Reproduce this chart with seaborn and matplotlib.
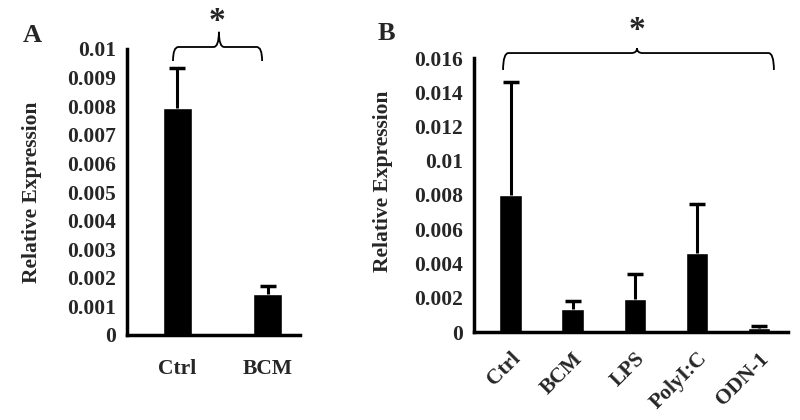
import numpy as np
import pandas as pd
import matplotlib
matplotlib.use("Agg")
import matplotlib.pyplot as plt
import seaborn as sns
from matplotlib.path import Path
from matplotlib.patches import PathPatch

# ---------------- data ----------------
cats_a = ["Ctrl", "BCM"]
vals_a = [0.00795, 0.00145]
err_a = [0.0014, 0.00025]

cats_b = ["Ctrl", "BCM", "LPS", "PolyI:C", "ODN-1"]
vals_b = [0.0080, 0.00135, 0.0019, 0.0046, 0.00025]
err_b = [0.0066, 0.00045, 0.0015, 0.0029, 0.0001]

yticks_a = [0, 0.001, 0.002, 0.003, 0.004, 0.005, 0.006, 0.007, 0.008, 0.009, 0.01]
yticks_b = [0, 0.002, 0.004, 0.006, 0.008, 0.01, 0.012, 0.014, 0.016]

sns.set_theme(style="white")
plt.rcParams["font.family"] = ["Liberation Serif", "DejaVu Serif"]
plt.rcParams["font.weight"] = "bold"

W, H = 800, 420
fig = plt.figure(figsize=(8, 4.2), dpi=100)

TICK_FS = 15.5


def px_axes(l, r, t, b):
    return fig.add_axes([l / W, (H - b) / H, (r - l) / W, (b - t) / H])


def style(ax, yticks, ymax):
    ax.set_ylim(0, ymax)
    ax.set_yticks(yticks)
    ax.set_yticklabels([f"{v:g}" for v in yticks], fontsize=TICK_FS, fontweight="bold")
    for s in ["top", "right"]:
        ax.spines[s].set_visible(False)
    for s in ["left", "bottom"]:
        ax.spines[s].set_linewidth(2.5)
        ax.spines[s].set_color("black")
    ax.tick_params(axis="y", direction="out", length=5, width=2, color="black", pad=3)
    ax.tick_params(axis="x", length=0)
    ax.set_xlabel("")
    ax.set_ylabel("Relative Expression", fontsize=15.5, fontweight="bold")
    ax.set_facecolor("white")


def errbars(ax, vals, errs):
    _, caps, _ = ax.errorbar(range(len(vals)), vals,
                             yerr=[np.zeros(len(errs)), errs],
                             fmt="none", ecolor="black", elinewidth=2.2,
                             capsize=5.5, capthick=2.5)
    # hide the caps at the bottom (bar top) end
    if len(caps) == 2:
        caps[0].set_visible(False)


def brace(ax, x0, x1, xc, yb, yh, yp, dx):
    verts = [(x0, yb), (x0, yh), (x0 + dx, yh),
             (xc - dx, yh), (xc, yh), (xc, yp),
             (xc, yh), (xc + dx, yh),
             (x1 - dx, yh), (x1, yh), (x1, yb)]
    codes = [Path.MOVETO, Path.CURVE3, Path.CURVE3,
             Path.LINETO, Path.CURVE3, Path.CURVE3,
             Path.CURVE3, Path.CURVE3,
             Path.LINETO, Path.CURVE3, Path.CURVE3]
    p = PathPatch(Path(verts, codes), fill=False, lw=1.3, color="black", clip_on=False)
    ax.add_patch(p)


# ---------------- panel A ----------------
axA = px_axes(127, 300, 49, 335)
dfa = pd.DataFrame({"cat": cats_a, "val": vals_a})
sns.barplot(data=dfa, x="cat", y="val", color="black", width=0.32, ax=axA,
            errorbar=None, saturation=1)
errbars(axA, vals_a, err_a)
axA.set_xlim(-0.561, 1.361)
style(axA, yticks_a, 0.01)
axA.set_xticks(range(len(cats_a)))
axA.set_xticklabels(cats_a, fontsize=TICK_FS, fontweight="bold")
axA.tick_params(axis="x", pad=17)
axA.yaxis.set_label_coords(-0.49, 0.5)
brace(axA, -0.05, 0.94, 0.46, 0.00958, 0.01007, 0.0106, 0.06)
axA.text(0.44, 0.01095, "*", ha="center", va="center", fontsize=24, fontweight="bold")
fig.text(32 / W, (H - 36) / H, "A", ha="center", va="center", fontsize=19, fontweight="bold")

# ---------------- panel B ----------------
axB = px_axes(474, 788, 58, 332)
dfb = pd.DataFrame({"cat": cats_b, "val": vals_b})
sns.barplot(data=dfb, x="cat", y="val", color="black", width=0.36, ax=axB,
            errorbar=None, saturation=1)
errbars(axB, vals_b, err_b)
axB.set_xlim(-0.588, 4.467)
style(axB, yticks_b, 0.016)
axB.set_xticks(range(len(cats_b)))
axB.set_xticklabels(cats_b, fontsize=TICK_FS, fontweight="bold", rotation=45,
                    ha="right", rotation_mode="anchor")
axB.tick_params(axis="x", pad=12)
axB.yaxis.set_label_coords(-0.258, 0.55)
brace(axB, -0.12, 4.24, 2.036, 0.0153, 0.01629, 0.01658, 0.09)
axB.text(2.036, 0.0176, "*", ha="center", va="center", fontsize=24, fontweight="bold")
fig.text(386 / W, (H - 34) / H, "B", ha="center", va="center", fontsize=19, fontweight="bold")

fig.savefig("out.png", dpi=100, facecolor="white")
